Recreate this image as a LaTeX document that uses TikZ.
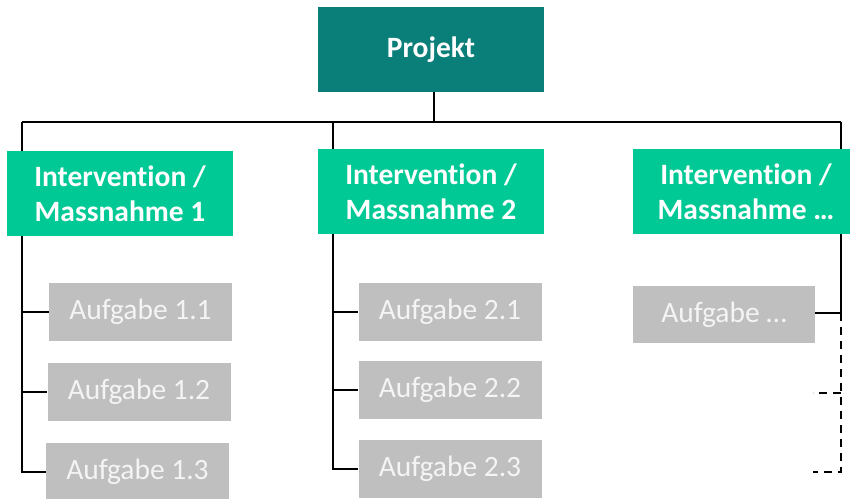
\documentclass[tikz,border=0pt]{standalone}
\usepackage{fontspec}
\setmainfont{Carlito}[Ligatures=NoCommon]
\usetikzlibrary{backgrounds}
\definecolor{teal1}{HTML}{0A7F7A}
\definecolor{green1}{HTML}{00C995}
\definecolor{gray1}{HTML}{BFBFBF}
\definecolor{txtgray}{HTML}{F4F4F4}
\tikzset{
  projbox/.style={fill=teal1, draw=none, minimum width=226pt, minimum height=85pt, inner sep=0pt, text=white, font=\fontsize{29.5}{35}\selectfont\bfseries, align=center},
  intbox/.style={fill=green1, draw=none, minimum width=226pt, minimum height=85pt, inner sep=0pt, text=white, font=\fontsize{29.5}{35}\selectfont\bfseries, align=center},
  taskbox/.style={fill=gray1, draw=none, minimum width=183pt, minimum height=58pt, inner sep=0pt, text=txtgray, font=\fontsize{29.5}{35}\selectfont},
  conn/.style={draw=black, line width=2.4pt},
  dconn/.style={draw=black, line width=2.4pt, dash pattern=on 8pt off 6pt}
}
\begin{document}
\begin{tikzpicture}[x=1pt,y=-1pt]
\useasboundingbox (0,0) rectangle (850,498);
\clip (0,0) rectangle (850,498);
\node[projbox] (P) at (431,49.5) {Projekt};
\node[intbox] (I1) at (120,193.5) {Intervention /\\Massnahme 1};
\node[intbox] (I2) at (431,191.5) {Intervention /\\Massnahme 2};
\node[intbox] (I3) at (746,191.5) {Intervention /\\Massnahme …};
\node[taskbox] (A11) at (140.5,312) {Aufgabe 1.1};
\node[taskbox] (A12) at (139,392) {Aufgabe 1.2};
\node[taskbox] (A13) at (137.5,472) {Aufgabe 1.3};
\node[taskbox] (A21) at (450,312) {Aufgabe 2.1};
\node[taskbox] (A22) at (450,390) {Aufgabe 2.2};
\node[taskbox] (A23) at (450,469) {Aufgabe 2.3};
\node[taskbox, minimum width=182pt, minimum height=57pt] (A3) at (724,314.5) {Aufgabe …};
\coordinate (h1) at (22,122);
\coordinate (h2) at (333,122);
\coordinate (h3) at (841,122);
\coordinate (hp) at (434,122);
\coordinate (d1) at (841,313);
\coordinate (d2) at (841,393);
\coordinate (d3) at (841,472);
\coordinate (e2) at (813,393);
\coordinate (e3) at (813,472);
\begin{scope}[on background layer]
\draw[conn] (h1) -- (h3);
\draw[conn] (P.south -| hp) -- (hp);
\draw[conn] (h1) |- (A13.west);
\draw[conn] (A11.west -| h1) -- (A11.west);
\draw[conn] (A12.west -| h1) -- (A12.west);
\draw[conn] (h2) |- (A23.west);
\draw[conn] (A21.west -| h2) -- (A21.west);
\draw[conn] (A22.west -| h2) -- (A22.west);
\draw[conn] (h3) -- (d1) -- (A3.east |- d1);
\draw[dconn] (d1) -- (d3) -- (e3);
\draw[dconn] (d2) -- (e2);
\end{scope}
\end{tikzpicture}
\end{document}
